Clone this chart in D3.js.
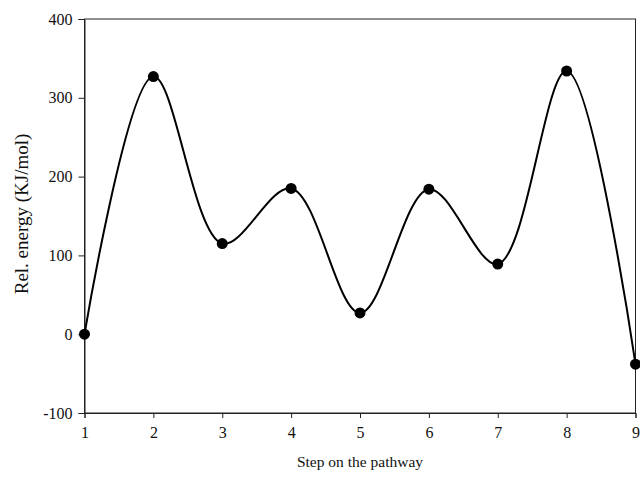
<!DOCTYPE html>
<html><head><meta charset="utf-8">
<script src="https://cdn.jsdelivr.net/npm/d3@7"></script>
<style>body{margin:0;background:#fff}svg{display:block}text{font-family:"Liberation Serif","Times New Roman",serif;fill:#111}</style>
</head><body><svg id="c" width="640" height="477"></svg>
<script>
const steps = [1,2,3,4,5,6,7,8,9];
const energies = [0, 327, 115, 185, 27, 184, 89, 334, -38];
const yTicks = [-100, 0, 100, 200, 300, 400];
const xTicks = [1,2,3,4,5,6,7,8,9];

const svg = d3.select("#c");
const L = 84.5, R = 635.5, T = 19, B = 413;
const x = d3.scaleLinear().domain([1,9]).range([L,R]);
const y = d3.scaleLinear().domain([-100,400]).range([B,T]);

svg.append("rect").attr("x",L).attr("y",T).attr("width",R-L).attr("height",B-T)
  .attr("fill","none").attr("stroke","#222").attr("stroke-width",1);

const ya = svg.append("g").attr("transform",`translate(${L},0)`)
  .call(d3.axisLeft(y).tickValues(yTicks).tickSize(6).tickPadding(6).tickFormat(d=>String(d)));
const xa = svg.append("g").attr("transform",`translate(0,${B})`)
  .call(d3.axisBottom(x).tickValues(xTicks).tickSize(5).tickPadding(9).tickFormat(d=>String(d)));
[ya,xa].forEach(g=>{
  g.select(".domain").attr("stroke","#222");
  g.selectAll(".tick line").attr("stroke","#222");
  g.selectAll(".tick text").attr("font-size",16).attr("font-family","Liberation Serif").attr("fill","#111");
});

svg.append("path").datum(steps.map((s,i)=>[s,energies[i]]))
  .attr("fill","none").attr("stroke","#000").attr("stroke-width",2)
  .attr("d", d3.line().x(d=>x(d[0])).y(d=>y(d[1])).curve(d3.curveCatmullRom.alpha(0.5)));

svg.selectAll("circle.pt").data(steps).enter().append("circle").attr("class","pt")
  .attr("cx",(d)=>x(d)).attr("cy",(d,i)=>y(energies[i])).attr("r",5.5).attr("fill","#000");

svg.append("text").attr("x",360).attr("y",467).attr("text-anchor","middle")
  .attr("font-size",15.5).text("Step on the pathway");
svg.append("text").attr("transform",`translate(28,214) rotate(-90)`).attr("text-anchor","middle")
  .attr("font-size",19).text("Rel. energy (KJ/mol)");
</script></body></html>
